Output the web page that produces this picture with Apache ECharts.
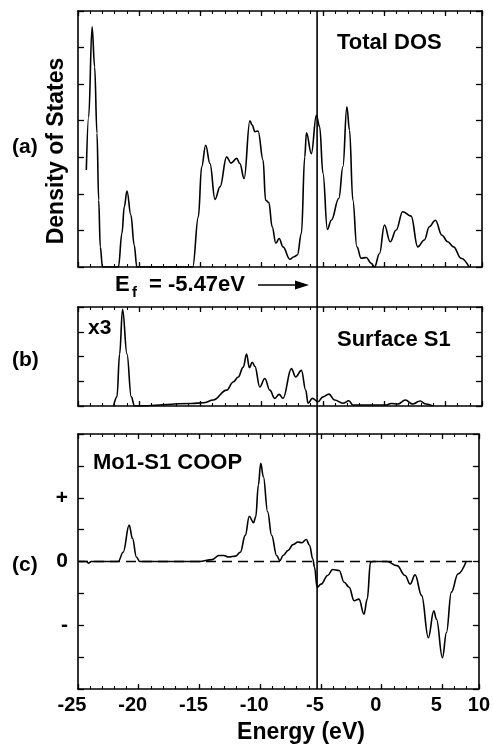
<!DOCTYPE html>
<html>
<head>
<meta charset="utf-8">
<script src="https://cdn.jsdelivr.net/npm/echarts@6/dist/echarts.min.js"></script>
<style>
  html, body { margin: 0; padding: 0; background: #fff; }
  #chart { width: 493px; height: 747px; }
</style>
</head>
<body>
<div id="chart"></div>
<script>
// energies in eV, curve heights in plot units
const fermiEnergy = -5.47;

const totalEnergy = [-24.32, -24.13, -23.85, -23.64, -23.45, -23.31, -23.18, -23.0, -21.7, -21.41,
  -21.22, -21.0, -20.68, -20.41, -20.19, -15.63, -15.17, -14.9, -14.57, -14.22,
  -13.81, -13.4, -12.86, -12.5, -12.04, -11.78, -11.43, -10.96, -10.77, -10.55,
  -10.29, -9.88, -9.68, -9.41, -9.14, -8.84, -8.57, -8.25, -7.7, -7.35,
  -7.08, -6.75, -6.48, -6.34, -5.94, -5.53, -5.26, -4.99, -4.63, -4.31,
  -3.69, -3.36, -3.04, -2.82, -2.55, -2.22, -1.87, -1.46, -1.05, -0.78,
  -0.37, 0.03, 0.5, 0.99, 1.52, 2.21, 2.75, 3.29, 3.7, 4.19,
  4.73, 5.19, 5.68, 6.28, 6.95];
const totalDos = [2.65, 4.1, 6.57, 5.47, 3.66, 1.83, 0.55, 0, 0, 0.92,
  1.65, 2.08, 1.42, 0.6, 0, 0, 1.37, 2.74, 3.33, 2.83,
  1.85, 2.19, 3.01, 2.84, 2.97, 2.83, 2.42, 4.0, 3.88, 3.7,
  3.72, 2.92, 1.83, 1.76, 1.1, 0.65, 0.78, 0.55, 0.21, 0.28,
  0.33, 0.92, 3.01, 3.67, 3.1, 4.15, 3.83, 2.56, 1.03, 1.28,
  1.88, 2.74, 4.38, 3.74, 1.83, 0.55, 0.24, 0.26, 0.1, 0,
  0.37, 1.15, 0.69, 1.01, 1.51, 1.39, 0.55, 0.74, 1.1, 1.28,
  0.87, 0.69, 0.55, 0.24, 0];

const s1Energy = [-22.09, -21.82, -21.6, -21.36, -21.0, -20.65, -20.38, -15.71, -14.76, -13.95,
  -12.86, -12.32, -11.91, -11.5, -11.23, -11.0, -10.77, -10.55, -10.15, -9.74,
  -9.33, -8.93, -8.57, -8.25, -7.57, -7.22, -6.75, -6.4, -6.21, -5.86,
  -5.4, -4.99, -4.5, -4.04, -3.36, -2.87, -2.55, -1.05, 0.17, 0.58,
  1.12, 1.74, 2.34, 2.94, 3.43, 3.97];
const s1Dos = [0, 0.37, 2.1, 3.91, 2.1, 0.37, 0, 0.1, 0.13, 0.24,
  0.64, 0.97, 1.17, 1.57, 2.1, 1.55, 1.77, 1.6, 0.77, 1.11,
  0.64, 0.31, 0.47, 0.31, 1.51, 1.17, 1.44, 0.64, 0.11, 0.31,
  0.17, 0.37, 0.48, 0.24, 0.11, 0.21, 0.04, 0.04, 0.04, 0.1,
  0.08, 0.24, 0.08, 0.2, 0.08, 0];

const coopEnergy = [-25, -24.3, -24.15, -23.9, -21.69, -21.28, -20.79, -20.51, -20.19, -19.92,
  -15.03, -13.95, -13.4, -13.0, -12.59, -12.04, -11.64, -11.23, -10.9, -10.55,
  -10.37, -10.15, -9.96, -9.74, -9.39, -9.06, -8.65, -8.38, -8.11, -7.7,
  -7.3, -6.89, -6.56, -6.21, -5.94, -5.67, -5.53, -5.32, -4.99, -4.45,
  -4.04, -3.5, -3.09, -2.68, -2.27, -1.87, -1.46, -1.19, -0.92, -0.65,
  0.44, 1.26, 1.93, 2.34, 2.75, 3.29, 3.84, 4.29, 4.51, 5.0,
  5.33, 5.73, 6.28, 6.95];
const coopValue = [0, 0, -0.05, 0, 0, 0.29, 1.14, 0.72, 0.14, 0,
  0, 0.06, 0.19, 0.19, 0.14, 0.17, 0.29, 0.82, 1.42, 1.22,
  1.4, 2.4, 3.08, 2.66, 1.56, 0.82, 0.19, 0.03, 0.19, 0.35,
  0.53, 0.61, 0.59, 0.69, 0.51, 0.08, -0.18, -0.81, -0.71, -0.44,
  -0.25, -0.28, -0.65, -0.81, -1.23, -1.18, -1.65, -1.18, -0.02, 0,
  0, -0.13, -0.44, -0.71, -0.42, -1.07, -2.39, -1.55, -1.81, -3.02,
  -2.23, -0.97, -0.39, 0];

// the original axis prints "10" at its right end
const energyTickLabels = ['-25', '-20', '-15', '-10', '-5', '0', '5', '10'];
const coopTickValues = [-2, 0, 2];
const coopTickText = ['-', '0', '+'];

const FONT = '"Liberation Sans", Arial, Helvetica, sans-serif';
const ink = { color: '#000', width: 1.6 };

const grids = [
  { left: 78, top: 11, width: 404, height: 256 },
  { left: 78, top: 307, width: 404, height: 99 },
  { left: 78, top: 434, width: 404, height: 255 },
];
const yRanges = [[0, 7], [0, 4], [-4, 4]];

function energyAxes(g) {
  const axes = [];
  ['bottom', 'top'].forEach((pos) => {
    // major ticks + frame line
    axes.push({
      gridIndex: g, type: 'value', position: pos, min: -25, max: 8, interval: 5,
      axisLine: { show: true, onZero: false, lineStyle: ink },
      axisTick: { inside: true, length: 5, lineStyle: { color: '#000', width: 1.3 } },
      splitLine: { show: false },
      axisLabel: {
        show: g === 2 && pos === 'bottom',
        showMinLabel: true, showMaxLabel: true,
        margin: 6,
        formatter: (v, i) => {
          const t = energyTickLabels[i] || '';
          return i === energyTickLabels.length - 1 ? '{e|' + t + '}' : '{s|' + t + '}';
        },
        rich: {
          s: { fontFamily: FONT, fontWeight: 'bold', fontSize: 20, color: '#000', padding: [0, 12, 0, 0] },
          e: { fontFamily: FONT, fontWeight: 'bold', fontSize: 20, color: '#000' },
        },
      },
    });
    // 1 eV minor ticks
    axes.push({
      gridIndex: g, type: 'value', position: pos, min: -25, max: 8, interval: 1,
      axisLine: { show: false, onZero: false },
      axisTick: { inside: true, length: 3, lineStyle: { color: '#000', width: 1.1 } },
      splitLine: { show: false },
      axisLabel: { show: false },
    });
  });
  return axes;
}

function valueAxes(g) {
  const [lo, hi] = yRanges[g];
  return ['left', 'right'].map((pos) => ({
    gridIndex: g, type: 'value', position: pos, min: lo, max: hi, interval: 1,
    axisLine: { show: true, onZero: false, lineStyle: ink },
    axisTick: { inside: true, length: 6, lineStyle: { color: '#000', width: 1.3 } },
    splitLine: { show: false },
    axisLabel: {
      show: g === 2 && pos === 'left',
      margin: 10,
      fontFamily: FONT, fontWeight: 'bold', fontSize: 21, color: '#000',
      formatter: (v) => {
        const i = coopTickValues.indexOf(v);
        return i >= 0 ? coopTickText[i] : '';
      },
    },
  }));
}

function curve(xIdx, yIdx, xs, ys, extra) {
  return Object.assign({
    type: 'line', xAxisIndex: xIdx, yAxisIndex: yIdx,
    data: xs.map((x, i) => [x, ys[i]]),
    showSymbol: false, smooth: 0.4, smoothMonotone: 'x',
    lineStyle: { color: '#000', width: 1.6 },
    silent: true,
  }, extra || {});
}

const chart = echarts.init(document.getElementById('chart'), null, { renderer: 'canvas' });

chart.setOption({
  animation: false,
  backgroundColor: '#fff',
  grid: grids,
  xAxis: [0, 1, 2].flatMap(energyAxes),
  yAxis: [0, 1, 2].flatMap(valueAxes),
  series: [
    curve(0, 0, totalEnergy, totalDos),
    curve(4, 2, s1Energy, s1Dos),
    curve(8, 4, coopEnergy, coopValue, {
      markLine: {
        silent: true, symbol: ['none', 'none'],
        label: { show: false },
        lineStyle: { color: '#000', width: 1.3, type: [10, 6] },
        data: [{ yAxis: 0 }],
      },
    }),
  ],
});

function label(text, x, y, size, align) {
  return {
    type: 'text', x: x, y: y, silent: true,
    style: {
      text: text, fill: '#000', align: align || 'left', verticalAlign: 'middle',
      font: 'bold ' + size + 'px ' + FONT,
    },
  };
}

const fermiX = chart.convertToPixel({ xAxisIndex: 0 }, fermiEnergy);
const topY = grids[0].top;
const bottomY = grids[2].top + grids[2].height;

chart.setOption({
  graphic: [
    { type: 'line', silent: true, shape: { x1: fermiX, y1: topY, x2: fermiX, y2: bottomY },
      style: { stroke: '#000', lineWidth: 1.6 } },
    Object.assign(label('Density of States', 57, 151, 23, 'center'), { rotation: Math.PI / 2 }),
    label('(a)', 12, 147, 21),
    label('Total DOS', 337, 43, 22),
    label('E', 115, 285, 22),
    label('f', 132, 293, 15),
    label('= -5.47eV', 149, 285, 22),
    { type: 'line', silent: true, shape: { x1: 258, y1: 285, x2: 298, y2: 285 },
      style: { stroke: '#000', lineWidth: 1.5 } },
    { type: 'polygon', silent: true, shape: { points: [[295, 280.5], [309, 285], [295, 289.5]] },
      style: { fill: '#000' } },
    label('(b)', 12, 360, 21),
    label('x3', 88, 328, 21),
    label('Surface S1', 337, 340, 22),
    label('(c)', 12, 565, 21),
    label('Mo1-S1 COOP', 93, 463, 22),
    label('Energy (eV)', 301, 733, 23, 'center'),
  ],
});
</script>
</body>
</html>
